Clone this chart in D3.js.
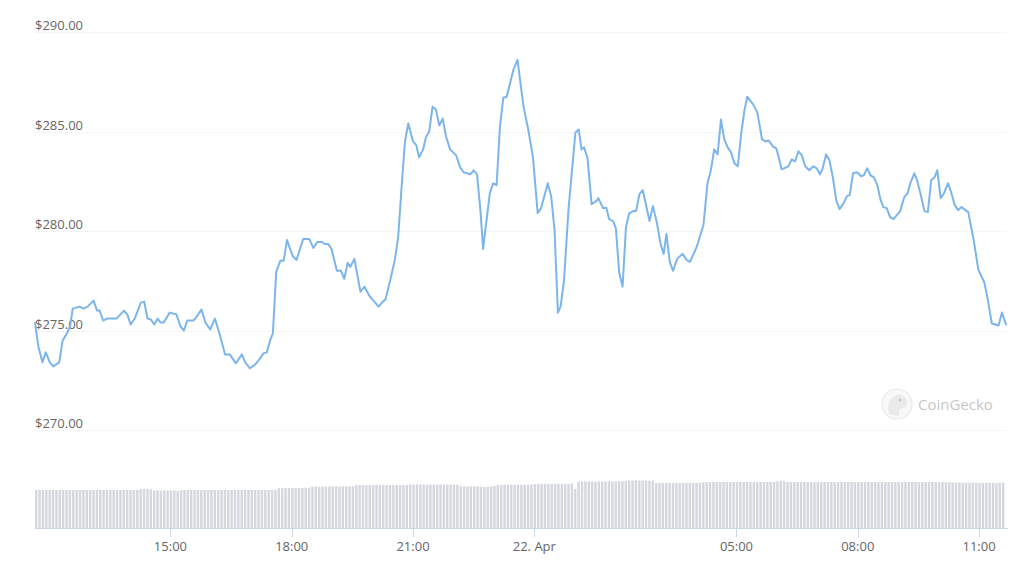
<!DOCTYPE html>
<html>
<head>
<meta charset="utf-8">
<script src="https://cdn.jsdelivr.net/npm/d3@7"></script>
<style>
  html, body { margin: 0; padding: 0; background: #fff; }
  svg { display: block; font-family: "Open Sans", "Noto Sans", sans-serif; }
</style>
</head>
<body>
<svg id="chart" width="1024" height="565"></svg>
<script>
// ---- data ----
const startTime = "2020-04-21T11:39:00";
// minutes after startTime for each price point
const priceMinutes = [0,5,11,16,22,27,36,41,48,52,56,66,72,78,87,92,96,101,107,121,132,137,142,148,157,162,167,172,177,182,186,191,200,210,216,221,226,235,240,247,253,260,267,275,282,289,298,307,312,319,327,334,339,344,349,353,358,364,369,374,379,383,388,398,407,413,419,426,430,435,440,448,454,459,464,468,474,483,489,497,510,516,520,527,534,539,544,549,554,561,566,570,576,580,585,590,595,600,605,610,616,625,631,636,646,651,656,661,665,675,680,685,690,695,700,710,716,725,732,739,746,751,761,766,771,776,780,785,792,802,807,811,815,820,826,833,836,843,848,852,858,862,867,872,877,882,888,892,897,902,912,917,923,928,933,937,942,947,953,961,967,972,982,992,998,1003,1008,1013,1018,1023,1028,1033,1038,1043,1048,1053,1057,1066,1072,1079,1084,1089,1095,1100,1103,1108,1118,1123,1128,1133,1138,1143,1149,1155,1160,1165,1169,1174,1179,1184,1189,1194,1200,1205,1209,1214,1220,1226,1230,1235,1240,1245,1250,1255,1259,1264,1269,1274,1284,1290,1295,1299,1305,1309,1315,1320,1325,1330,1335,1339,1344,1349,1355,1360,1365,1370,1375,1385,1393,1400,1409,1414,1420,1430,1435,1441];
const prices = [275.38,274.2,273.4,273.9,273.4,273.2,273.4,274.5,274.9,275.2,276.1,276.2,276.1,276.2,276.5,276.0,276.0,275.5,275.6,275.6,276.0,275.8,275.3,275.6,276.4,276.45,275.6,275.55,275.3,275.6,275.4,275.4,275.9,275.8,275.2,275.0,275.5,275.5,275.7,276.05,275.4,275.05,275.6,274.7,273.8,273.8,273.35,273.8,273.4,273.1,273.3,273.6,273.85,273.9,274.5,274.85,277.95,278.5,278.5,279.55,279.05,278.7,278.55,279.6,279.6,279.15,279.45,279.45,279.35,279.35,279.1,278.0,278.0,277.6,278.4,278.2,278.6,276.95,277.2,276.7,276.2,276.45,276.55,277.5,278.55,279.7,282.2,284.5,285.4,284.5,284.3,283.7,284.1,284.7,285.0,286.25,286.1,285.3,285.65,284.75,284.1,283.8,283.2,282.95,282.85,283.05,282.85,281.05,279.1,281.9,282.4,282.3,285.25,286.7,286.75,288.1,288.6,286.25,285.1,283.7,280.9,281.15,282.4,281.75,280.05,275.9,276.2,277.5,281.2,284.95,285.1,284.1,284.2,283.65,281.35,281.5,281.65,281.15,281.15,280.6,280.5,280.15,277.9,277.2,280.2,280.9,281.0,281.0,281.85,282.05,280.5,281.25,280.4,279.4,278.85,279.85,278.45,278.0,278.6,278.85,278.55,278.45,279.2,280.3,282.4,283.05,284.1,283.85,285.6,284.6,284.2,283.95,283.4,283.25,284.9,286.1,286.75,286.35,285.95,284.6,284.5,284.55,284.25,284.15,283.8,283.1,283.25,283.6,283.5,284.0,283.8,283.25,283.05,283.25,283.15,282.85,283.15,283.85,283.55,282.7,281.55,281.1,281.4,281.75,281.8,282.9,282.95,282.75,282.8,283.15,282.8,282.7,282.3,281.55,281.2,281.15,280.7,280.6,281.0,281.7,281.9,282.4,282.9,282.55,281.75,281.0,280.95,282.55,282.7,283.05,281.65,281.9,282.4,281.9,281.3,281.05,281.2,280.95,279.55,278.05,277.4,276.55,275.35,275.25,275.9,275.3];
// 5-minute volume bars (billions USD, rolling)
const volumeStepMinutes = 5;
const volumes = [
1.97,1.97,1.96,1.97,1.97,1.97,1.96,1.97,1.97,1.97,
1.97,1.96,1.97,1.97,1.97,1.97,1.97,1.96,1.97,1.97,
1.97,1.97,1.97,1.97,1.96,1.97,1.97,1.97,1.97,1.97,1.97,
2.01,2.02,2.02,2.01,
1.95,1.95,1.94,1.95,1.95,1.94,1.95,
1.91,
1.96,1.97,1.97,1.97,1.97,1.97,1.96,1.97,1.97,1.97,1.97,1.97,1.97,1.97,1.96,1.97,1.97,1.97,1.97,1.97,1.97,1.97,1.97,1.96,1.97,1.97,1.97,1.97,1.98,
2.06,2.06,2.07,2.07,2.07,2.06,2.07,2.07,2.08,2.08,
2.13,2.14,2.14,2.15,2.14,2.15,2.15,2.15,2.14,2.15,2.16,2.15,2.16,
2.22,2.22,2.23,2.22,2.22,2.22,2.23,2.22,2.22,2.22,2.21,2.22,2.22,2.22,2.23,2.22,
2.25,2.25,2.26,2.25,2.25,2.24,2.25,2.25,2.25,2.25,2.24,2.25,2.24,2.24,2.23,
2.16,2.15,2.15,2.15,2.15,2.16,
2.13,2.12,2.12,2.14,2.18,
2.22,2.23,2.24,2.24,2.24,2.23,2.24,2.24,2.24,2.24,2.25,
2.27,2.28,2.28,2.28,2.27,2.28,2.28,2.29,2.29,2.28,2.29,2.30,
2.02,
2.40,2.41,2.41,2.41,2.41,2.40,2.41,2.41,2.41,2.42,2.41,2.41,2.42,2.42,2.43,
2.46,2.46,2.47,2.46,2.46,2.46,2.45,2.44,
2.34,2.33,2.33,2.33,2.33,2.33,2.33,2.33,2.33,2.33,2.34,2.33,2.34,2.35,2.36,
2.38,2.38,2.38,2.38,2.37,2.38,2.38,2.38,2.39,2.38,2.38,2.38,2.39,2.38,2.38,2.38,2.38,2.38,2.38,2.39,2.39,
2.42,2.43,2.42,
2.38,2.38,2.38,2.38,2.38,2.38,2.38,2.38,2.37,2.38,
2.38,2.38,2.38,2.38,2.38,2.38,2.39,2.38,2.38,2.38,
2.38,2.38,2.38,2.38,2.38,2.38,2.38,2.37,2.38,2.38,
2.38,2.38,2.38,2.38,2.38,2.38,2.38,2.38,2.38,2.38,
2.37,2.38,2.38,2.38,2.37,2.37,2.38,2.37,2.37,2.36,
2.36,2.36,
2.34,2.35,2.34,2.35,2.34,2.33,2.34,2.35,2.34,2.34,2.33,2.35,2.35
];
const yTicks = [270, 275, 280, 285, 290];
const xTickTimes = ["2020-04-21T15:00:00","2020-04-21T18:00:00","2020-04-21T21:00:00","2020-04-22T00:00:00","2020-04-22T05:00:00","2020-04-22T08:00:00","2020-04-22T11:00:00"];
const xTickLabels = ["15:00","18:00","21:00","22. Apr","05:00","08:00","11:00"];
const watermarkText = "CoinGecko";

// ---- chart ----
const svg = d3.select("#chart");
const t0 = new Date(startTime);
const addMin = m => new Date(t0.getTime() + m * 60000);

const left = 35, right = 1006;
const x = d3.scaleTime().domain([t0, addMin(1441)]).range([left, right]);
const y = d3.scaleLinear().domain([270, 290]).range([430, 32]);
const yVol = d3.scaleLinear().domain([0, 3]).range([528, 470]);

// grid lines
svg.append("g").selectAll("line").data(yTicks).join("line")
  .attr("x1", left).attr("x2", 1007)
  .attr("y1", d => Math.round(y(d)) + 0.5).attr("y2", d => Math.round(y(d)) + 0.5)
  .attr("stroke", "#ebebeb").attr("stroke-width", 1).attr("stroke-dasharray", "1,1");

// y labels
svg.append("g").selectAll("text").data(yTicks).join("text")
  .attr("x", left).attr("y", d => y(d) - 2)
  .attr("font-size", 13).attr("fill", "#666")
  .text(d => "$" + d3.format(".2f")(d));

// watermark
const wm = svg.append("g").attr("opacity", 0.55);
wm.append("circle").attr("cx", 897).attr("cy", 404).attr("r", 15)
  .attr("fill", "#f3f3f3").attr("stroke", "#d8d8d8").attr("stroke-width", 1.2);
wm.append("path")
  .attr("d", "M889,414 C887,406 889,397 897,395 C903,394 908,398 907,404 C906,408 902,408 900,409 C899,411 899,413 899,416 Z")
  .attr("fill", "#d9d9d9");
wm.append("circle").attr("cx", 900).attr("cy", 400).attr("r", 1.5).attr("fill", "#999");
wm.append("text").attr("x", 918).attr("y", 410).attr("font-size", 15)
  .attr("fill", "#999").text(watermarkText);

// volume bars
const volData = volumes.map((v, i) => ({ t: addMin(i * volumeStepMinutes), v }));
const barW = (x(addMin(volumeStepMinutes)) - x(t0)) * 0.72;
svg.append("g").selectAll("rect").data(volData).join("rect")
  .attr("x", d => x(d.t))
  .attr("width", barW)
  .attr("y", d => yVol(d.v))
  .attr("height", d => yVol(0) - yVol(d.v))
  .attr("fill", "#d4d7dc");

// x axis baseline
svg.append("line").attr("x1", left).attr("x2", 1008)
  .attr("y1", 528.5).attr("y2", 528.5).attr("stroke", "#ccd6eb");

// x ticks
const xt = xTickTimes.map((s, i) => ({ t: new Date(s), label: xTickLabels[i] }));
const xg = svg.append("g");
xg.selectAll("line").data(xt).join("line")
  .attr("x1", d => Math.round(x(d.t)) + 0.5).attr("x2", d => Math.round(x(d.t)) + 0.5)
  .attr("y1", 528).attr("y2", 537).attr("stroke", "#ccd6eb");
xg.selectAll("text").data(xt).join("text")
  .attr("x", d => x(d.t)).attr("y", 551)
  .attr("text-anchor", "middle").attr("font-size", 13).attr("fill", "#666")
  .text(d => d.label);

// price line
const n = Math.min(priceMinutes.length, prices.length);
const priceData = d3.range(n).map(i => ({ t: addMin(priceMinutes[i]), p: prices[i] }));
svg.append("path").datum(priceData)
  .attr("fill", "none").attr("stroke", "#7cb5ec").attr("stroke-width", 2)
  .attr("stroke-linejoin", "round").attr("stroke-linecap", "round")
  .attr("d", d3.line().x(d => x(d.t)).y(d => y(d.p)));
</script>
</body>
</html>
